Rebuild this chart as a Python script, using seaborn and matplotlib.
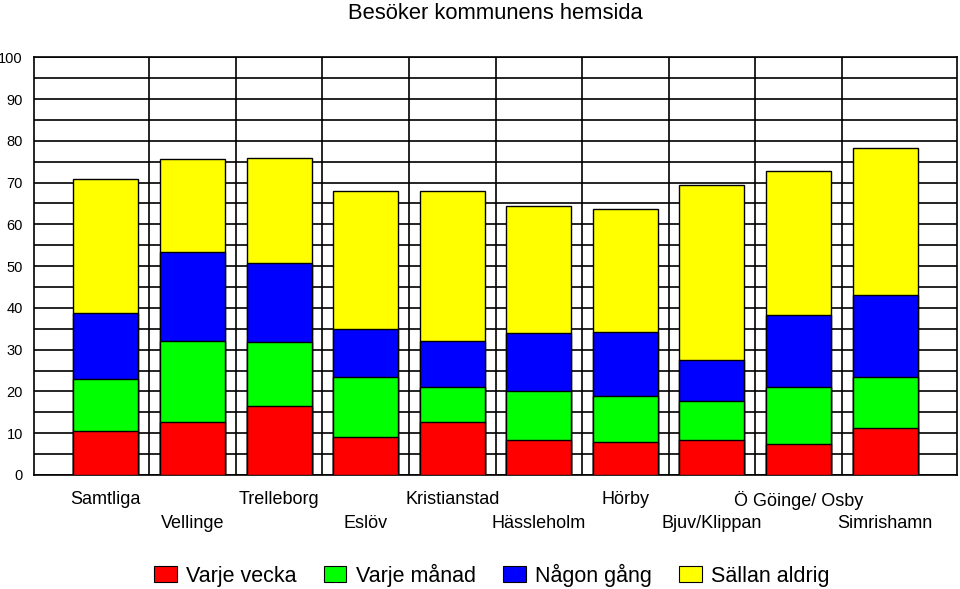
import matplotlib
matplotlib.use("Agg")
import matplotlib.pyplot as plt
import seaborn as sns
import pandas as pd
import numpy as np
from matplotlib.patches import Patch

categories = ["Samtliga", "Vellinge", "Trelleborg", "Eslöv", "Kristianstad",
              "Hässleholm", "Hörby", "Bjuv/Klippan", "Ö Göinge/ Osby", "Simrishamn"]
varje_vecka = [10.6, 12.8, 16.4, 9.2, 12.7, 8.4, 7.9, 8.4, 7.4, 11.2]
varje_manad = [12.5, 19.3, 15.4, 14.3, 8.3, 11.8, 11.0, 9.3, 13.7, 12.3]
nagon_gang = [15.8, 21.2, 19.0, 11.5, 11.2, 13.7, 15.3, 9.8, 17.2, 19.6]
sallan_aldrig = [32.0, 22.4, 25.2, 33.1, 35.9, 30.5, 29.4, 42.0, 34.4, 35.3]
series_names = ["Varje vecka", "Varje månad", "Någon gång", "Sällan aldrig"]
series_colors = ["#FF0000", "#00FF00", "#0000FF", "#FFFF00"]

sns.set_theme(style="white")
plt.rcParams["font.family"] = ["Liberation Sans", "DejaVu Sans"]
plt.rcParams["text.color"] = "black"
plt.rcParams["xtick.color"] = "black"
plt.rcParams["ytick.color"] = "black"
plt.rcParams["axes.labelcolor"] = "black"

df = pd.DataFrame({"kategori": categories,
                   series_names[0]: varje_vecka,
                   series_names[1]: varje_manad,
                   series_names[2]: nagon_gang,
                   series_names[3]: sallan_aldrig})
cum = df[series_names].cumsum(axis=1)

fig = plt.figure(figsize=(9.6, 5.89), dpi=100)
ax_h = (475 - 57.3) / 589
ax = fig.add_axes([34/960, 1-475/589, (957-34)/960, ax_h])

for name, col in reversed(list(zip(series_names, series_colors))):
    sns.barplot(x=df["kategori"], y=cum[name], order=categories, color=col,
                saturation=1, width=0.75, edgecolor="black", linewidth=1.0,
                ax=ax, zorder=3)

ax.set_xlim(-0.83, 9.83)
ax.set_ylim(0, 100)
ax.set_yticks(np.arange(0, 101, 10))
ax.set_yticks(np.arange(0, 101, 5), minor=True)
ax.set_xticks(np.arange(0.5, 9, 1), minor=True)
ax.grid(True, which="both", axis="y", color="black", linewidth=1.2)
ax.grid(True, which="minor", axis="x", color="black", linewidth=1.2)
ax.set_axisbelow(True)
ax.tick_params(axis="both", which="both", length=0)
ax.tick_params(axis="y", labelsize=10.5, pad=8, labelcolor="black")
ax.set_xticks(range(len(categories)))
ax.set_xticklabels([])
ax_px = ax_h * 589
for i, c in enumerate(categories):
    ypos = -25/ax_px if i % 2 == 0 else -48/ax_px
    ax.text(i, ypos, c, transform=ax.get_xaxis_transform(), ha="center",
            va="center", fontsize=13, color="black")
for s in ax.spines.values():
    s.set_color("black")
    s.set_linewidth(1.2)
ax.set_xlabel("")
ax.set_ylabel("")

fig.text(0.516, 0.995, "Besöker kommunens hemsida", ha="center", va="top",
         fontsize=15.8, color="black")

handles = [Patch(facecolor=c, edgecolor="black", linewidth=0.8) for c in series_colors]
fig.legend(handles, series_names, loc="center", ncol=4, frameon=False,
           bbox_to_anchor=(0.5125, 14/589), fontsize=15.5, handlelength=1.05,
           handleheight=0.7, handletextpad=0.45, columnspacing=1.25,
           labelcolor="black")

fig.savefig("out.png", dpi=100)
